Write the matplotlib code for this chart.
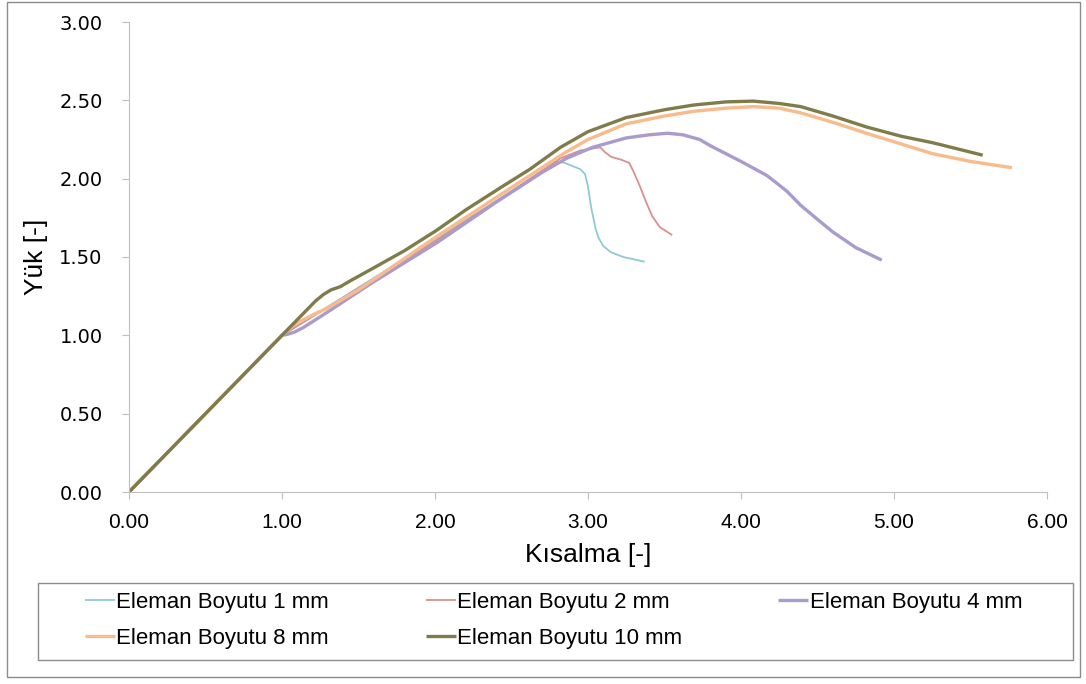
import matplotlib.pyplot as plt
from matplotlib.patches import Rectangle

# Data
x_1mm = [0.0, 1.0, 2.0, 2.5, 2.80, 2.85, 2.90, 2.95, 2.98, 3.00, 3.02, 3.05,
         3.07, 3.10, 3.15, 3.23, 3.37]
y_1mm = [0.0, 1.0, 1.61, 1.92, 2.11, 2.10, 2.08, 2.06, 2.03, 1.95, 1.82, 1.68,
         1.62, 1.57, 1.53, 1.50, 1.47]

x_2mm = [0.0, 1.0, 2.0, 2.5, 2.82, 2.95, 3.08, 3.11, 3.15, 3.22, 3.27, 3.30,
         3.34, 3.38, 3.42, 3.47, 3.55]
y_2mm = [0.0, 1.0, 1.60, 1.92, 2.13, 2.18, 2.20, 2.17, 2.14, 2.12, 2.10, 2.04,
         1.95, 1.85, 1.76, 1.69, 1.64]

x_4mm = [0.0, 1.0, 1.03, 1.08, 1.14, 1.30, 1.58, 2.01, 2.40, 2.70, 2.86, 3.03,
         3.25, 3.40, 3.52, 3.62, 3.73, 3.80, 3.86, 4.00, 4.17, 4.30, 4.39, 4.50,
         4.60, 4.75, 4.92]
y_4mm = [0.0, 1.0, 1.005, 1.02, 1.05, 1.15, 1.33, 1.59, 1.85, 2.04, 2.13, 2.20,
         2.26, 2.28, 2.29, 2.28, 2.25, 2.21, 2.18, 2.11, 2.02, 1.92, 1.83, 1.74,
         1.66, 1.56, 1.48]

x_8mm = [0.0, 1.0, 1.07, 1.14, 1.22, 1.29, 1.50, 2.01, 2.40, 2.84, 3.00, 3.25,
         3.50, 3.69, 3.90, 4.08, 4.25, 4.39, 4.60, 4.82, 5.25, 5.50, 5.77]
y_8mm = [0.0, 1.0, 1.06, 1.10, 1.14, 1.17, 1.29, 1.63, 1.88, 2.16, 2.25, 2.35,
         2.40, 2.43, 2.45, 2.46, 2.45, 2.42, 2.36, 2.29, 2.16, 2.11, 2.07]

x_10mm = [0.0, 1.0, 1.14, 1.22, 1.27, 1.32, 1.38, 1.45, 1.58, 1.80, 2.01, 2.20,
          2.44, 2.62, 2.82, 3.00, 3.25, 3.50, 3.69, 3.90, 4.08, 4.25, 4.39, 4.60,
          4.82, 5.05, 5.25, 5.58]
y_10mm = [0.0, 1.0, 1.14, 1.22, 1.26, 1.29, 1.31, 1.35, 1.42, 1.54, 1.67, 1.80,
          1.95, 2.06, 2.20, 2.30, 2.39, 2.44, 2.47, 2.49, 2.495, 2.48, 2.46, 2.40,
          2.33, 2.27, 2.23, 2.15]

labels = ["Eleman Boyutu 1 mm", "Eleman Boyutu 2 mm", "Eleman Boyutu 4 mm",
          "Eleman Boyutu 8 mm", "Eleman Boyutu 10 mm"]
colors = ["#8ECAD6", "#D9908E", "#A99BCC", "#F9BA8C", "#7E7C4A"]
widths = [1.3, 1.3, 2.4, 2.4, 2.4]

fig = plt.figure(figsize=(10.86, 6.84), dpi=100)
ax = fig.add_axes([129 / 1086, 1 - 492 / 684, 918 / 1086, 470 / 684])

series = [(x_1mm, y_1mm), (x_2mm, y_2mm), (x_4mm, y_4mm), (x_8mm, y_8mm), (x_10mm, y_10mm)]
lines = []
for (xs, ys), lab, c, w in zip(series, labels, colors, widths):
    ln, = ax.plot(xs, ys, color=c, lw=w, label=lab,
                  solid_capstyle="butt", solid_joinstyle="round")
    lines.append(ln)

ax.set_xlim(0, 6)
ax.set_ylim(0, 3)
ax.set_xticks([0, 1, 2, 3, 4, 5, 6])
ax.set_yticks([0, 0.5, 1, 1.5, 2, 2.5, 3])
ax.set_xticklabels([f"{v:.2f}" for v in ax.get_xticks()], fontsize=15, family="Liberation Sans")
ax.set_yticklabels([f"{v:.2f}" for v in ax.get_yticks()], fontsize=14)
ax.spines["right"].set_visible(False)
ax.spines["top"].set_visible(False)
for s in ["left", "bottom"]:
    ax.spines[s].set_color("#BFBFBF")
ax.tick_params(axis="both", color="#BFBFBF", length=5, direction="out")
ax.tick_params(axis="x", pad=10)
ax.tick_params(axis="y", pad=14)
ax.set_xlabel("Kısalma [-]", fontsize=19, family="Liberation Sans", labelpad=8)
ax.set_ylabel("Yük [-]", fontsize=19, family="Liberation Sans", labelpad=8)

# legend row-major order: 1, 2, 4 / 8, 10
order = [0, 3, 1, 4, 2]
leg = fig.legend([lines[i] for i in order], [labels[i] for i in order],
                 loc="upper left", ncol=3, bbox_to_anchor=(85 / 1086, 1 - 592 / 684),
                 frameon=False, handlelength=1.35, handletextpad=0.05,
                 columnspacing=4.35, labelspacing=0.68, borderpad=0.0,
                 borderaxespad=0.0, prop={"family": "Liberation Sans", "size": 16})

# legend box and outer chart border
fig.patches.append(Rectangle((38 / 1086, 1 - 660 / 684), 1035 / 1086, 77 / 684,
                             transform=fig.transFigure, fill=False,
                             edgecolor="#8C8C8C", lw=1.0))
fig.patches.append(Rectangle((7 / 1086, 1 - 677 / 684), 1073 / 1086, 675 / 684,
                             transform=fig.transFigure, fill=False,
                             edgecolor="#8C8C8C", lw=1.0))

fig.savefig("out.png", dpi=100)
